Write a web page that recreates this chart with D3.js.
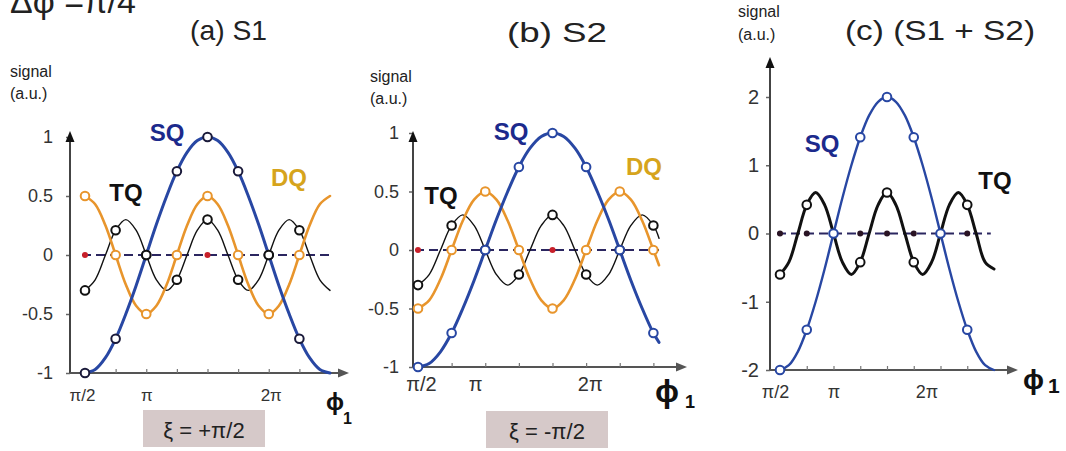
<!DOCTYPE html>
<html><head><meta charset="utf-8">
<script src="https://cdn.jsdelivr.net/npm/d3@7"></script>
<style>
body{margin:0;background:#fff;}
svg{display:block;font-family:"Liberation Sans",Arial,sans-serif;}
</style></head>
<body><svg id="c" width="1066" height="451"></svg>
<script>
// ---------- DATA (phase in units of pi) ----------
const phaseFull = [0.5,0.583,0.667,0.75,0.833,0.917,1,1.083,1.167,1.25,1.333,1.417,1.5,1.583,1.667,1.75,1.833,1.917,2,2.083,2.167,2.25,2.333,2.417,2.5];
const phaseB    = [0.5,0.583,0.667,0.75,0.833,0.917,1,1.083,1.167,1.25,1.333,1.417,1.5,1.583,1.667,1.75,1.833,1.917,2,2.083,2.167,2.25,2.292];
const markPhases = [0.5,0.75,1,1.25,1.5,1.75,2,2.25];

const sqA = [-1,-0.97,-0.87,-0.71,-0.5,-0.26,0,0.26,0.5,0.71,0.87,0.97,1,0.97,0.87,0.71,0.5,0.26,0,-0.26,-0.5,-0.71,-0.87,-0.97,-1];
const dqA = [0.5,0.43,0.25,0,-0.25,-0.43,-0.5,-0.43,-0.25,0,0.25,0.43,0.5,0.43,0.25,0,-0.25,-0.43,-0.5,-0.43,-0.25,0,0.25,0.43,0.5];
const tqA = [-0.3,-0.21,0,0.21,0.3,0.21,0,-0.21,-0.3,-0.21,0,0.21,0.3,0.21,0,-0.21,-0.3,-0.21,0,0.21,0.3,0.21,0,-0.21,-0.3];

const sqB = [-1,-0.97,-0.87,-0.71,-0.5,-0.26,0,0.26,0.5,0.71,0.87,0.97,1,0.97,0.87,0.71,0.5,0.26,0,-0.26,-0.5,-0.71,-0.79];
const dqB = [-0.5,-0.43,-0.25,0,0.25,0.43,0.5,0.43,0.25,0,-0.25,-0.43,-0.5,-0.43,-0.25,0,0.25,0.43,0.5,0.43,0.25,0,-0.13];
const tqB = [-0.3,-0.21,0,0.21,0.3,0.21,0,-0.21,-0.3,-0.21,0,0.21,0.3,0.21,0,-0.21,-0.3,-0.21,0,0.21,0.3,0.21,0.1];

const sqC = [-2,-1.93,-1.73,-1.41,-1,-0.52,0,0.52,1,1.41,1.73,1.93,2,1.93,1.73,1.41,1,0.52,0,-0.52,-1,-1.41,-1.73,-1.93,-2];
const tqC = [-0.6,-0.42,0,0.42,0.6,0.42,0,-0.42,-0.6,-0.42,0,0.42,0.6,0.42,0,-0.42,-0.6,-0.42,0,0.42,0.6,0.42,0,-0.42,-0.52];
const dqC = [0,0,0,0,0,0,0,0];

const redPhase = [0.5,1.5];
const redVals = [0,0];

const yTicksAB = [1,0.5,0,-0.5,-1];
const yLabelsAB = ["1","0.5","0","-0.5","-1"];
const yTicksC = [2,1,0,-1,-2];
const yLabelsC = ["2","1","0","-1","-2"];
const xTickVals = [0.5,1,2];
const xTickLabels = ["π/2","π","2π"];

// ---------- STYLE ----------
const C_SQ = "#2847a3", C_SQT = "#1c2a8c", C_DQ = "#e8952c", C_DQT = "#d6a41c", C_TQ = "#111";
const svg = d3.select("#c");

function markerIdx(ph){ return markPhases.map(m => ph.findIndex(p => Math.abs(p-m)<1e-3)).filter(i=>i>=0); }

function panel(o){
  const g = svg.append("g");
  const x = d3.scaleLinear().domain([0.5,2.5]).range(o.xr);
  const y = d3.scaleLinear().domain(o.yd).range(o.yr);
  const ax = o.axisX, ay = y(o.yd[0]);
  const ya = d3.axisLeft(y).tickValues(o.yTicks).tickFormat((d,i)=>o.yLabels[i]).tickSize(4).tickPadding(o.yPad);
  const yg = g.append("g").attr("transform",`translate(${ax},0)`).call(ya);
  yg.select(".domain").remove();
  yg.selectAll("line").attr("stroke","#666").attr("stroke-width",1.5);
  yg.selectAll("text").attr("font-size",o.yFont).attr("fill","#333").attr("font-family","Liberation Sans, Arial");
  g.append("line").attr("x1",ax).attr("x2",ax).attr("y1",ay).attr("y2",o.yTip+8).attr("stroke","#444").attr("stroke-width",2);
  g.append("path").attr("d",`M${ax},${o.yTip} L${ax-4.5},${o.yTip+11} L${ax+4.5},${o.yTip+11}Z`).attr("fill","#111");
  g.append("line").attr("x1",ax).attr("x2",o.xTip-8).attr("y1",ay).attr("y2",ay).attr("stroke","#555").attr("stroke-width",2);
  g.append("path").attr("d",`M${o.xTip},${ay} L${o.xTip-11},${ay-4.5} L${o.xTip-11},${ay+4.5}Z`).attr("fill","#555");
  const minor = d3.axisBottom(x).tickValues(markPhases).tickFormat("").tickSize(-4);
  const mg = g.append("g").attr("transform",`translate(0,${ay})`).call(minor);
  mg.select(".domain").remove(); mg.selectAll("line").attr("stroke","#777").attr("stroke-width",1.2);
  const xa = d3.axisBottom(x).tickValues(xTickVals).tickFormat((d,i)=>xTickLabels[i]).tickSize(0).tickPadding(o.xPad);
  const xg = g.append("g").attr("transform",`translate(0,${ay})`).call(xa);
  xg.select(".domain").remove();
  xg.selectAll("text").attr("font-size",o.xFont).attr("fill","#333").attr("font-family","Liberation Sans, Arial")
    .attr("dx",(d,i)=>o.xDx[i]);
  g.append("line").attr("x1",x(0.5)-3).attr("x2",x(o.dashEnd)).attr("y1",y(0)).attr("y2",y(0))
    .attr("stroke","#2b2660").attr("stroke-width",2.2).attr("stroke-dasharray","9,5");
  const line = d3.line().curve(d3.curveCatmullRom.alpha(0.5));
  const draw = (ph,vals,col,w)=> g.append("path").datum(ph.map((p,i)=>[x(p),y(vals[i])]))
      .attr("d",line).attr("fill","none").attr("stroke",col).attr("stroke-width",w).attr("stroke-linecap","round");
  o.series.forEach(s=>draw(o.phase,s.v,s.col,s.w));
  const idx = markerIdx(o.phase);
  o.marks.forEach(m=>{
    g.selectAll(null).data(idx.filter(i=>!m.skip || !m.skip.includes(o.phase[i]))).enter().append("circle")
      .attr("cx",i=>x(o.phase[i])).attr("cy",i=>y(m.v[i])).attr("r",4.3)
      .attr("fill","#fff").attr("stroke",m.col).attr("stroke-width",2);
  });
  if(o.dots) g.selectAll(null).data(o.dots.ph).enter().append("circle")
      .attr("cx",d=>x(d)).attr("cy",(d,i)=>y(o.dots.v[i])).attr("r",o.dots.r).attr("fill",o.dots.col);
  return {g,x,y};
}

panel({xr:[85,330], yd:[-1,1], yr:[373,137], axisX:70, yTip:131, xTip:349,
  yTicks:yTicksAB, yLabels:yLabelsAB, yPad:13, yFont:18, xPad:16, xFont:17, xDx:[-3,0,2], dashEnd:2.5,
  phase:phaseFull,
  series:[{v:tqA,col:C_TQ,w:1.4},{v:dqA,col:C_DQ,w:2.6},{v:sqA,col:C_SQ,w:3}],
  marks:[{v:dqA,col:C_DQ},{v:sqA,col:"#1a1a3a"},{v:tqA,col:"#111"}],
  dots:{ph:redPhase,v:redVals,r:3,col:"#c8202a"}});
panel({xr:[418,687], yd:[-1,1], yr:[367,133], axisX:413, yTip:131, xTip:687,
  yTicks:yTicksAB, yLabels:yLabelsAB, yPad:10, yFont:18, xPad:10, xFont:20, xDx:[3,-10,-30], dashEnd:2.292,
  phase:phaseB,
  series:[{v:tqB,col:C_TQ,w:1.4},{v:dqB,col:C_DQ,w:2.6},{v:sqB,col:C_SQ,w:3}],
  marks:[{v:dqB,col:C_DQ},{v:tqB,col:"#111"},{v:sqB,col:C_SQ}],
  dots:{ph:redPhase,v:redVals,r:3,col:"#c8202a"}});
const pc = panel({xr:[780,994], yd:[-2,2], yr:[370,97], axisX:770, yTip:57, xTip:1018,
  yTicks:yTicksC, yLabels:yLabelsC, yPad:7, yFont:20, xPad:15, xFont:18, xDx:[-5,0,-14], dashEnd:2.47,
  phase:phaseFull,
  series:[{v:sqC,col:C_SQ,w:2.4},{v:tqC,col:C_TQ,w:3}],
  marks:[{v:sqC,col:C_SQ},{v:tqC,col:"#111",skip:[1,2]}],
  dots:null});
pc.g.selectAll(null).data(markPhases.filter(p=>p!==1&&p!==2)).enter().append("circle")
  .attr("cx",d=>pc.x(d)).attr("cy",(d,i)=>pc.y(dqC[i])).attr("r",3).attr("fill","#2a1424");

function txt(s,x,y,size,opt={}){
  const t = svg.append("text").attr("x",x).attr("y",y).attr("font-size",size).attr("fill",opt.fill||"#111")
    .attr("text-anchor",opt.anchor||"start").attr("font-weight",opt.bold?"bold":"normal").text(s);
  if(opt.len) t.attr("textLength",opt.len).attr("lengthAdjust","spacingAndGlyphs");
  return t;
}
txt("Δφ =π/4",10,13,34,{fill:"#222"});
txt("(a) S1",190,40,28,{fill:"#222",len:77});
txt("(b) S2",507,42,28,{fill:"#222",len:100});
txt("(c) (S1 + S2)",845,40,28,{fill:"#222",len:190});
[[10,77,99],[370,82,104],[738,17,40]].forEach(([x,a,b])=>{txt("signal",x,a,16,{fill:"#222"});txt("(a.u.)",x,b,16,{fill:"#222"});});
txt("SQ",167,141,24,{bold:true,anchor:"middle",fill:C_SQT});
txt("TQ",126,201,24,{bold:true,anchor:"middle"});
txt("DQ",289,186,24,{bold:true,anchor:"middle",fill:C_DQT});
txt("SQ",511,140,24,{bold:true,anchor:"middle",fill:C_SQT});
txt("DQ",644,175,24,{bold:true,anchor:"middle",fill:C_DQT});
txt("TQ",441,204,24,{bold:true,anchor:"middle"});
txt("SQ",822,152,24,{bold:true,anchor:"middle",fill:C_SQT});
txt("TQ",995,189,24,{bold:true,anchor:"middle"});
txt("ϕ",326,410,24,{bold:true}); txt("1",343,424,16,{bold:true});
txt("ϕ",655,402,32,{bold:true}); txt("1",685,408,18,{bold:true});
txt("ϕ",1023,389,28,{bold:true}); txt("1",1048,393,21,{bold:true});
svg.append("rect").attr("x",143).attr("y",410).attr("width",122).attr("height",37).attr("fill","#d6c9c9");
txt("ξ = +π/2",204,438,22,{anchor:"middle",fill:"#222"});
svg.append("rect").attr("x",486).attr("y",411).attr("width",122).attr("height",37).attr("fill","#d6c9c9");
txt("ξ = -π/2",547,439,22,{anchor:"middle",fill:"#222"});
</script></body></html>
